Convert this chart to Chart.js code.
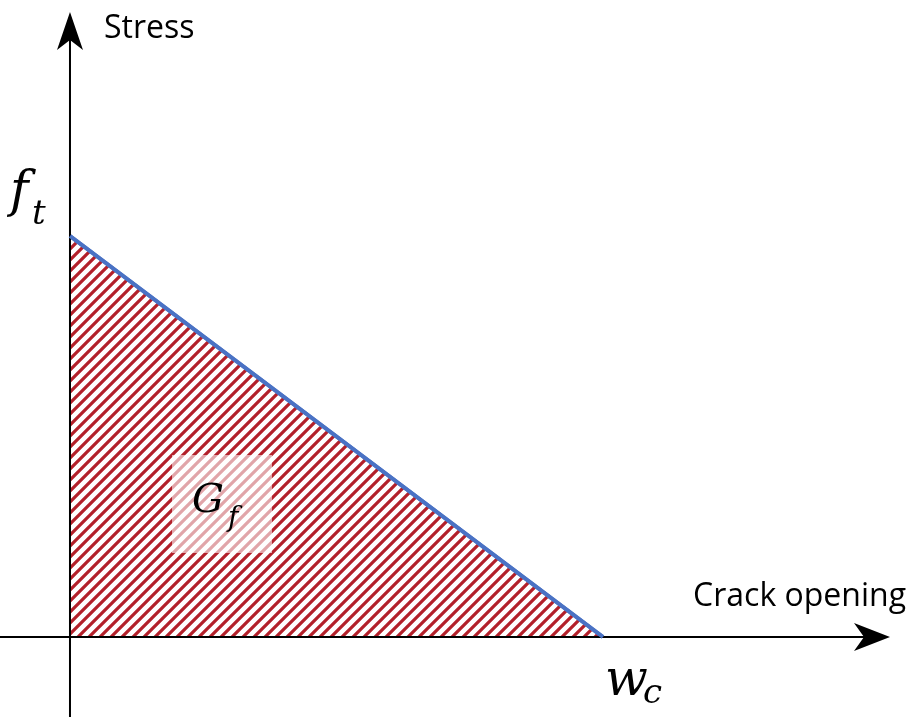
<!DOCTYPE html>
<html>
<head>
<meta charset="utf-8">
<script src="https://cdn.jsdelivr.net/npm/chart.js@4/dist/chart.umd.min.js"></script>
<style>
  html, body { margin: 0; padding: 0; background: #fff; }
  #wrap { width: 913px; height: 717px; }
</style>
</head>
<body>
<div id="wrap"><canvas id="c" width="913" height="717"></canvas></div>
<script>
// softening curve: stress vs crack opening (normalised)
const openings = [0, 1];
const stresses = [1, 0];
const axisLabels = ['Stress', 'Crack opening'];

function hatchPattern(ctx) {
    const s = 11;
    const p = document.createElement('canvas');
    p.width = s; p.height = s;
    const g = p.getContext('2d');
    g.fillStyle = '#fff';
    g.fillRect(0, 0, s, s);
    g.strokeStyle = '#b3202a';
    g.lineWidth = 3.2;
    g.beginPath();
    g.moveTo(-2, s + 2); g.lineTo(s + 2, -2);
    g.moveTo(-2, 2); g.lineTo(2, -2);
    g.moveTo(s - 2, s + 2); g.lineTo(s + 2, s - 2);
    g.stroke();
    return ctx.createPattern(p, 'repeat');
}

const axesPlugin = {
    id: 'axes',
    afterDatasetsDraw(chart) {
        const ctx = chart.ctx;
        const xs = chart.scales.x, ys = chart.scales.y;
        const x0 = xs.getPixelForValue(0), y0 = ys.getPixelForValue(0);
        const yTop = ys.getPixelForValue(1);
        const xEnd = xs.getPixelForValue(1);
        ctx.save();
        // G_f box
        ctx.fillStyle = 'rgba(255,255,255,0.6)';
        ctx.fillRect(172, 455, 100, 98);
        ctx.fillStyle = '#000';
        ctx.font = 'italic 40px "DejaVu Serif"';
        ctx.fillText('G', 192, 512);
        ctx.font = 'italic 28px "DejaVu Serif"';
        ctx.fillText('f', 228, 526);
        // axes
        ctx.strokeStyle = '#000';
        ctx.lineWidth = 2;
        ctx.beginPath();
        ctx.moveTo(0, y0); ctx.lineTo(880, y0);
        ctx.moveTo(x0, 717); ctx.lineTo(x0, 20);
        ctx.stroke();
        // blue softening line on top
        ctx.strokeStyle = '#4a72c4';
        ctx.lineWidth = 4;
        ctx.beginPath();
        ctx.moveTo(x0, yTop); ctx.lineTo(xEnd, y0);
        ctx.stroke();
        ctx.fillStyle = '#000';
        ctx.beginPath();
        ctx.moveTo(890, y0); ctx.lineTo(854, y0 - 14); ctx.lineTo(864, y0); ctx.lineTo(854, y0 + 14);
        ctx.closePath(); ctx.fill();
        ctx.beginPath();
        ctx.moveTo(x0, 12); ctx.lineTo(x0 - 13, 50); ctx.lineTo(x0, 40); ctx.lineTo(x0 + 13, 50);
        ctx.closePath(); ctx.fill();
        // axis titles
        ctx.font = '32px "Open Sans"';
        ctx.textBaseline = 'alphabetic';
        ctx.fillText(axisLabels[0], 104, 38);
        ctx.textAlign = 'right';
        ctx.fillText(axisLabels[1], 906, 606);
        ctx.textAlign = 'left';
        // f_t and w_c
        ctx.font = 'italic 50px "DejaVu Serif"';
        ctx.fillText('f', 10, yTop - 30);
        ctx.font = 'italic 34px "DejaVu Serif"';
        ctx.fillText('t', 32, yTop - 12);
        ctx.font = 'italic 50px "DejaVu Serif"';
        ctx.fillText('w', xEnd + 2, y0 + 58);
        ctx.font = 'italic 34px "DejaVu Serif"';
        ctx.fillText('c', xEnd + 40, y0 + 66);
        ctx.restore();
    }
};

const canvas = document.getElementById('c');
const ctx = canvas.getContext('2d');

new Chart(canvas, {
    type: 'scatter',
    data: {
        datasets: [{
            data: openings.map((w, i) => ({ x: w, y: stresses[i] })),
            showLine: true,
            borderColor: '#4a72c4',
            borderWidth: 4,
            pointRadius: 0,
            fill: 'origin',
            backgroundColor: hatchPattern(ctx)
        }]
    },
    options: {
        responsive: false,
        animation: false,
        layout: { padding: 0 },
        plugins: { legend: { display: false }, tooltip: { enabled: false } },
        scales: {
            x: { type: 'linear', display: false, min: -0.1313, max: 1.5816 },
            y: { type: 'linear', display: false, min: -0.1995, max: 1.5885 }
        }
    },
    plugins: [axesPlugin]
});
</script>
</body>
</html>
